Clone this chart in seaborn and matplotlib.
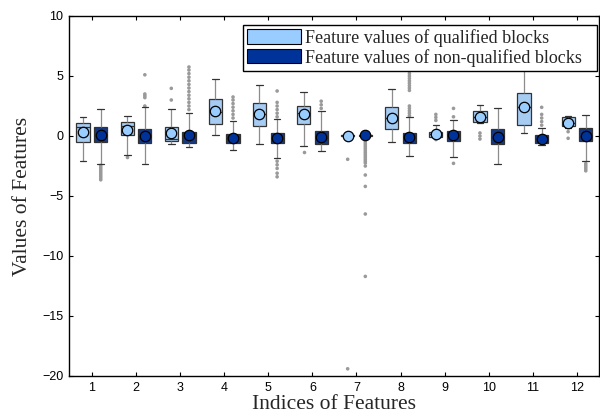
import numpy as np
import pandas as pd
import matplotlib
matplotlib.use("Agg")
import matplotlib.pyplot as plt
import seaborn as sns
from matplotlib.patches import Patch

features = [1, 2, 3, 4, 5, 6, 7, 8, 9, 10, 11, 12]
groups = ["Feature values of qualified blocks", "Feature values of non-qualified blocks"]
colors = ["#99CCFF", "#003399"]

# qualified blocks: five-number summaries and means
q_lo = [-2.06, -1.58, -0.67, 0.08, -0.69, -0.83, -0.10, -0.47, -0.20, 1.06, 0.28, 0.70]
q_q1 = [-0.53, 0.08, -0.42, 1.00, 0.83, 1.00, -0.02, 0.56, -0.05, 1.19, 0.92, 0.83]
q_med = [0.78, 0.83, -0.28, 2.00, 1.80, 1.90, 0.05, 1.50, 0.15, 1.60, 2.40, 1.10]
q_q3 = [1.06, 1.19, 0.75, 3.06, 2.72, 2.53, 0.10, 2.39, 0.35, 2.08, 3.61, 1.56]
q_hi = [1.60, 1.69, 2.22, 4.72, 4.25, 3.69, 0.15, 3.89, 0.90, 2.56, 6.40, 1.70]
q_mean = [0.36, 0.50, 0.28, 2.10, 1.81, 1.83, 0.00, 1.47, 0.20, 1.61, 2.44, 1.11]
q_out = [
    [], [-1.72], [3.0, 3.97], [], [], [-1.31], [-1.94, -19.4], [],
    [1.3, 1.55, 1.8, -0.3], [0.25, 0.0, -0.25], [], [0.36, -0.19],
]

# non-qualified blocks
n_lo = [-2.33, -2.33, -0.89, -1.17, -1.86, -1.25, -0.05, -1.64, -1.72, -2.33, -0.75, -2.06]
n_q1 = [-0.53, -0.61, -0.61, -0.61, -0.61, -0.69, 0.00, -0.61, -0.39, -0.67, -0.56, -0.39]
n_med = [0.00, -0.10, -0.10, -0.20, -0.20, -0.15, 0.05, -0.15, 0.00, -0.10, -0.30, 0.00]
n_q3 = [0.75, 0.56, 0.36, 0.17, 0.28, 0.44, 0.10, 0.28, 0.44, 0.56, 0.08, 0.64]
n_hi = [2.28, 2.39, 1.89, 1.28, 1.39, 2.08, 0.15, 1.56, 1.33, 2.30, 0.64, 1.75]
n_mean = [0.08, 0.00, 0.08, -0.14, -0.14, -0.11, 0.08, -0.11, 0.08, -0.11, -0.28, 0.00]
n_out = [
    [-2.45, -2.6, -2.75, -2.9, -3.05, -3.2, -3.35, -3.5, -3.65],
    [2.5, 3.2, 3.35, 3.5, 5.1],
    [2.2, 2.5, 2.8, 3.1, 3.4, 3.7, 4.0, 4.3, 4.6, 4.9, 5.2, 5.5, 5.75],
    [1.5, 1.8, 2.1, 2.4, 2.7, 3.0, 3.25],
    [1.6, 1.9, 2.2, 2.5, 2.8, 3.75, -2.1, -2.4, -2.7, -3.1, -3.4],
    [2.3, 2.6, 2.9],
    [-0.3, -0.45, -0.6, -0.75, -0.9, -1.05, -1.2, -1.35, -1.5, -1.65, -1.8, -1.95,
     -2.1, -2.25, -2.5, -3.25, -4.2, -6.5, -11.7],
    [1.7, 1.9, 2.1, 2.3, 2.5, 3.8, 4.0, 4.2, 4.4, 4.6, 4.8, 5.0, 5.2, 5.4],
    [1.6, 2.3, -2.28],
    [],
    [0.9, 1.2, 1.5, 1.8, 2.39],
    [-2.3, -2.45, -2.6, -2.75, -2.9],
]

box_rows, out_rows, mean_rows = [], [], []
for g, lo, q1, md, q3, hi, mn, outs in [
    (groups[0], q_lo, q_q1, q_med, q_q3, q_hi, q_mean, q_out),
    (groups[1], n_lo, n_q1, n_med, n_q3, n_hi, n_mean, n_out),
]:
    for i, f in enumerate(features):
        for v in (lo[i], q1[i], md[i], q3[i], hi[i]):
            box_rows.append((f, g, v))
        for v in outs[i]:
            out_rows.append((f, g, v))
        mean_rows.append((f, g, mn[i]))

cols = ["feature", "group", "value"]
box_df = pd.DataFrame(box_rows, columns=cols)
out_df = pd.DataFrame(out_rows, columns=cols)
mean_df = pd.DataFrame(mean_rows, columns=cols)

sns.set_style("ticks")
plt.rcParams["font.family"] = ["Liberation Sans", "DejaVu Sans"]

fig = plt.figure(figsize=(6.0, 4.18), dpi=100)
ax = fig.add_axes([69 / 600, 42 / 418, 530 / 600, 360 / 418])

pal = dict(zip(groups, colors))
sns.stripplot(data=out_df, x="feature", y="value", hue="group", hue_order=groups,
              palette={g: "#9a9a9a" for g in groups}, native_scale=True, dodge=True,
              jitter=False, size=2.6, linewidth=0, legend=False, ax=ax, zorder=1)
sns.boxplot(data=box_df, x="feature", y="value", hue="group", hue_order=groups,
            palette=pal, native_scale=True, width=0.8, gap=0.25, whis=(0, 100),
            showfliers=False, linewidth=0.9, linecolor="#333333",
            whiskerprops={"color": "#8c8c8c", "linewidth": 0.9},
            capprops={"color": "#333333", "linewidth": 0.9},
            medianprops={"color": "#333333", "linewidth": 0.9},
            legend=False, ax=ax)
sns.stripplot(data=mean_df, x="feature", y="value", hue="group", hue_order=groups,
              palette=pal, native_scale=True, dodge=True, jitter=False, size=7.5,
              edgecolor="black", linewidth=0.9, legend=False, ax=ax, zorder=5)

ax.set_xlim(0.48, 12.5)
ax.set_ylim(-20, 10)
ax.set_xticks(features)
ax.set_xticklabels([str(f) for f in features])
ax.set_yticks(range(-20, 11, 5))
ax.tick_params(direction="in", top=True, right=True, length=3, width=0.8,
               labelsize=9, colors="black", pad=4)
for s in ax.spines.values():
    s.set_visible(True)
    s.set_linewidth(1.0)
    s.set_color("black")

ax.set_xlabel("Indices of Features", family=["Liberation Serif"], fontsize=15.5, labelpad=1)
ax.set_ylabel("Values of Features", family=["Liberation Serif"], fontsize=15.5, labelpad=7)

handles = [Patch(facecolor=c, edgecolor="black", linewidth=0.8, label=g)
           for g, c in zip(groups, colors)]
leg = ax.legend(handles=handles, loc="upper left",
                bbox_to_anchor=(0.328, 0.856, 0.668, 0.119), mode="expand",
                borderaxespad=0, frameon=True, fancybox=False, framealpha=1,
                edgecolor="black", prop={"family": "Liberation Serif", "size": 13},
                handlelength=3.0, handleheight=0.85, labelspacing=0.1,
                handletextpad=0.25, borderpad=0.22)
leg.get_frame().set_linewidth(1.0)
leg.set_zorder(10)

fig.savefig("out.png", dpi=100)
